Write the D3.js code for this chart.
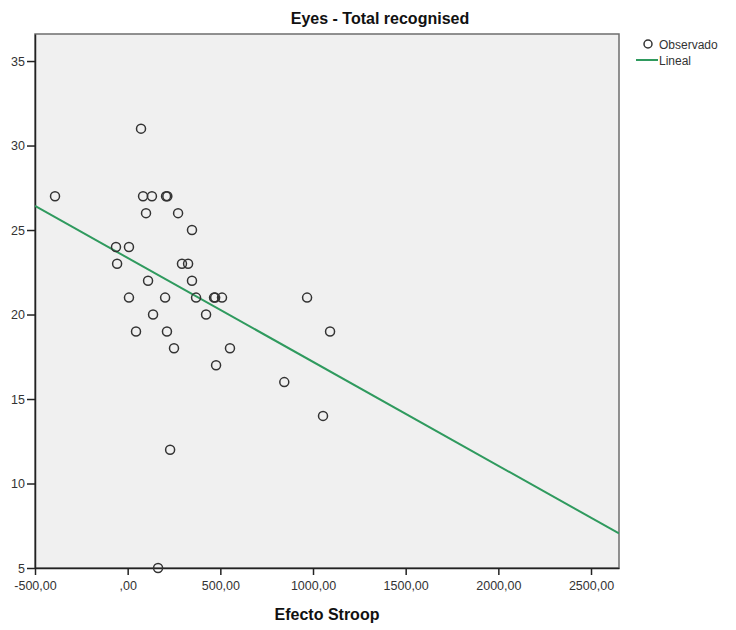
<!DOCTYPE html>
<html>
<head>
<meta charset="utf-8">
<script src="https://cdn.jsdelivr.net/npm/d3@7"></script>
<style>
  body { margin: 0; background: #fff; }
  text { font-family: "Liberation Sans", Arial, sans-serif; }
</style>
</head>
<body>
<div id="chart"></div>
<script>
// Observed points (Efecto Stroop, Eyes - Total recognised)
var stroop = [-392, 72, 83, 131, 207, 214, 99, 272, 347, -63, 7, -57, 293, 326, 110, 347,
  7, 202, 369, 466, 472, 509, 968, 137, 423, 45, 212, 1092, 250, 552, 477, 845, 1054, 229, 164];
var eyes = [27, 31, 27, 27, 27, 27, 26, 26, 25, 24, 24, 23, 23, 23, 22, 22,
  21, 21, 21, 21, 21, 21, 21, 20, 20, 19, 19, 19, 18, 18, 17, 16, 14, 12, 5];

// Linear fit
var fitIntercept = 23.35;
var fitSlope = -0.00615;

var xTicks = [-500, 0, 500, 1000, 1500, 2000, 2500];
var yTicks = [5, 10, 15, 20, 25, 30, 35];
var xDomain = [-500, 2651];
var yDomain = [5, 36.6];

var width = 736, height = 630;
var margin = {top: 34, right: 117, bottom: 62, left: 35};

var svg = d3.select("#chart")
  .append("svg")
  .attr("width", width)
  .attr("height", height);

var x = d3.scaleLinear().domain(xDomain).range([margin.left, width - margin.right]);
var y = d3.scaleLinear().domain(yDomain).range([height - margin.bottom, margin.top]);

// plot background and frame
svg.append("rect")
  .attr("x", x(xDomain[0]))
  .attr("y", y(yDomain[1]))
  .attr("width", x(xDomain[1]) - x(xDomain[0]))
  .attr("height", y(yDomain[0]) - y(yDomain[1]))
  .attr("fill", "#f0f0f0")
  .attr("stroke", "#6e6e6e")
  .attr("stroke-width", 1.5);

var fmt = function(d) {
  if (d === 0) return ",00";
  return d.toFixed(2).replace(".", ",");
};

// x axis
var xAxis = svg.append("g")
  .attr("transform", "translate(0," + y(yDomain[0]) + ")")
  .call(d3.axisBottom(x).tickValues(xTicks).tickFormat(fmt).tickSize(7).tickSizeOuter(0));

// y axis
var yAxis = svg.append("g")
  .attr("transform", "translate(" + x(xDomain[0]) + ",0)")
  .call(d3.axisLeft(y).tickValues(yTicks).tickSize(8).tickSizeOuter(0));

[xAxis, yAxis].forEach(function(g) {
  g.select(".domain").attr("stroke", "#222").attr("stroke-width", 1.5);
  g.selectAll(".tick line").attr("stroke", "#222").attr("stroke-width", 1.5);
  g.selectAll(".tick text")
    .attr("fill", "#333")
    .style("font-size", "12.5px")
    .style("font-family", "'Liberation Sans', Arial, sans-serif");
});
xAxis.selectAll(".tick text").attr("dy", "0.95em");
yAxis.selectAll(".tick text").attr("dx", "1px");

// regression line
svg.append("clipPath").attr("id", "plotclip")
  .append("rect")
  .attr("x", x(xDomain[0]))
  .attr("y", y(yDomain[1]))
  .attr("width", x(xDomain[1]) - x(xDomain[0]))
  .attr("height", y(yDomain[0]) - y(yDomain[1]));

svg.append("line")
  .attr("clip-path", "url(#plotclip)")
  .attr("x1", x(xDomain[0]))
  .attr("y1", y(fitIntercept + fitSlope * xDomain[0]))
  .attr("x2", x(xDomain[1]))
  .attr("y2", y(fitIntercept + fitSlope * xDomain[1]))
  .attr("stroke", "#2f9a5e")
  .attr("stroke-width", 2);

// points
svg.append("g")
  .selectAll("circle")
  .data(stroop)
  .enter()
  .append("circle")
  .attr("cx", d => x(d))
  .attr("cy", (d, i) => y(eyes[i]))
  .attr("r", 4.5)
  .attr("fill", "none")
  .attr("stroke", "#333")
  .attr("stroke-width", 1.5);

// title
svg.append("text")
  .attr("x", 380)
  .attr("y", 24)
  .attr("text-anchor", "middle")
  .style("font-size", "16px")
  .style("font-weight", "bold")
  .attr("fill", "#111")
  .text("Eyes - Total recognised");

// x label
svg.append("text")
  .attr("x", x(xDomain[0]) + (x(xDomain[1]) - x(xDomain[0])) / 2)
  .attr("y", 620)
  .attr("text-anchor", "middle")
  .style("font-size", "16px")
  .style("font-weight", "bold")
  .attr("fill", "#111")
  .text("Efecto Stroop");

// legend
var legend = svg.append("g").attr("transform", "translate(636,44)");
legend.append("circle")
  .attr("cx", 12).attr("cy", 0).attr("r", 4)
  .attr("fill", "none").attr("stroke", "#333").attr("stroke-width", 1.5);
legend.append("text")
  .attr("x", 23).attr("y", 4.5)
  .style("font-size", "12px").attr("fill", "#333")
  .text("Observado");
legend.append("line")
  .attr("x1", 0).attr("x2", 22).attr("y1", 16).attr("y2", 16)
  .attr("stroke", "#2f9a5e").attr("stroke-width", 2);
legend.append("text")
  .attr("x", 23).attr("y", 20.5)
  .style("font-size", "12px").attr("fill", "#333")
  .text("Lineal");
</script>
</body>
</html>
